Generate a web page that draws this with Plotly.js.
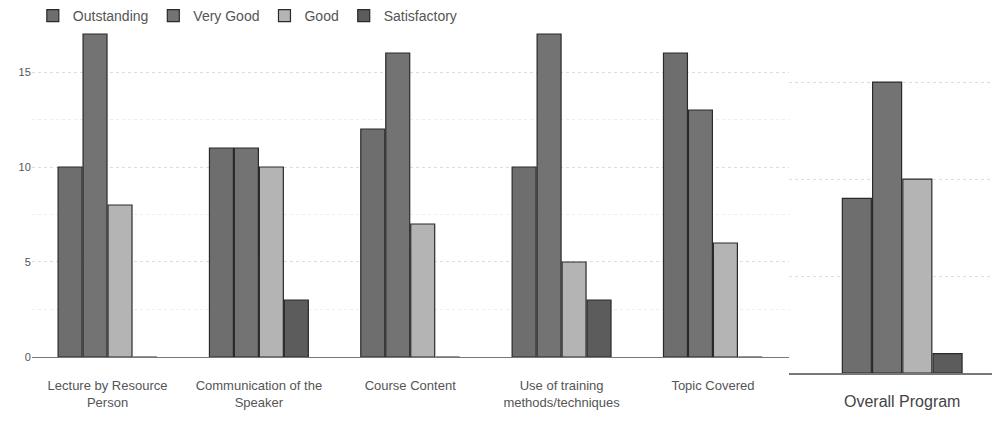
<!DOCTYPE html>
<html>
<head>
<meta charset="utf-8">
<script src="https://cdn.plot.ly/plotly-3.0.1.min.js"></script>
<style>html,body{margin:0;padding:0;background:#fff;}#chart{width:992px;height:435px;}</style>
</head>
<body>
<div id="chart"></div>
<script>
const categories = ["Lecture by Resource<br>Person", "Communication of the<br>Speaker", "Course Content", "Use of training<br>methods/techniques", "Topic Covered"];
const seriesNames = ["Outstanding", "Very Good", "Good", "Satisfactory"];
const outstanding = [10, 11, 12, 10, 16];
const veryGood = [17, 11, 16, 17, 13];
const good = [8, 10, 7, 5, 6];
const satisfactory = [0, 3, 0, 3, 0];
const overallCategory = ["Overall Program"];
const overallValues = [9, 15, 10, 1];
const yTicks = [0, 5, 10, 15];

const colors = ["#6e6e6e", "#737373", "#b4b4b4", "#5c5c5c"];
const mainSeries = [outstanding, veryGood, good, satisfactory];

const traces = [];
mainSeries.forEach((vals, i) => {
  traces.push({
    type: "bar", name: seriesNames[i], x: categories, y: vals,
    xaxis: "x", yaxis: "y",
    marker: {color: colors[i], line: {color: "#2a2a2a", width: 1.2}},
    hoverinfo: "y"
  });
});
overallValues.forEach((v, i) => {
  traces.push({
    type: "bar", name: seriesNames[i], x: overallCategory, y: [v],
    xaxis: "x2", yaxis: "y2", showlegend: false,
    marker: {color: colors[i], line: {color: "#2a2a2a", width: 1.2}},
    hoverinfo: "y"
  });
});

const labelFont = "'Liberation Sans', Arial, sans-serif";

const layout = {
  width: 992, height: 435,
  margin: {l: 28, r: 0, t: 0, b: 62},
  paper_bgcolor: "#fff", plot_bgcolor: "#fff",
  barmode: "group", bargap: 0.34, bargroupgap: 0.04,
  showlegend: true,
  legend: {orientation: "h", x: 0.005, y: 1.0, xanchor: "left", yanchor: "top",
           font: {family: labelFont, size: 14, color: "#555"}, itemwidth: 30, tracegroupgap: 0},
  xaxis: {domain: [0.004, 0.789], anchor: "y", showline: true, linecolor: "#777", linewidth: 1.5,
          ticks: "", ticklabelstandoff: 16, tickfont: {family: labelFont, size: 13, color: "#555"}, showgrid: false},
  yaxis: {domain: [0.0429, 0.9343], range: [0, 17.5], tickvals: yTicks, ticktext: yTicks.map(String),
          showgrid: true, gridcolor: "#efd6d6", griddash: "dot", gridwidth: 1,
          minor: {dtick: 2.5, showgrid: true, gridcolor: "#f5eaea", griddash: "dot"},
          zeroline: false, showline: false, ticks: "",
          tickfont: {family: labelFont, size: 11, color: "#555"}},
  xaxis2: {domain: [0.789, 1], anchor: "y2", range: [-0.62, 0.49], showline: true, linecolor: "#777", linewidth: 1.5,
           ticks: "", ticklabelstandoff: 13, tickfont: {family: labelFont, size: 16, color: "#444"}, showgrid: false},
  yaxis2: {domain: [0, 0.9464], range: [0, 18.2], anchor: "x2", tickvals: yTicks, showticklabels: false,
           showgrid: true, gridcolor: "#efd6d6", griddash: "dot", zeroline: false, showline: false, ticks: ""}
};

Plotly.newPlot("chart", traces, layout, {displayModeBar: false, staticPlot: true});
</script>
</body>
</html>
